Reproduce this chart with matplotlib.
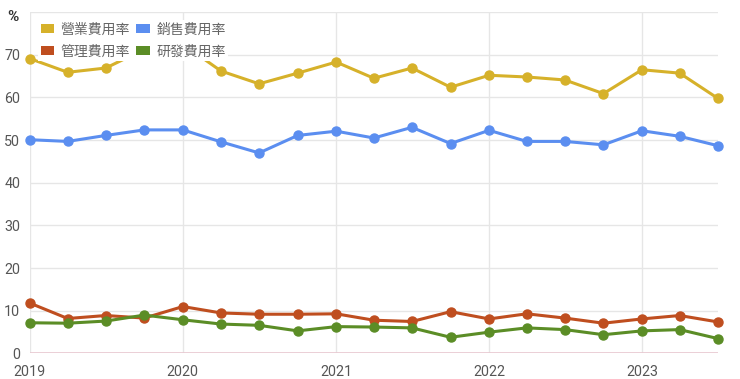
import matplotlib
matplotlib.use('Agg')
import matplotlib.pyplot as plt
import matplotlib.dates as mdates
from matplotlib.patches import Patch
import pandas as pd

plt.rcParams['font.family'] = ['Roboto', 'Noto Sans CJK TC', 'DejaVu Sans']

quarters = ['2019-01-01', '2019-04-01', '2019-07-01', '2019-10-01',
            '2020-01-01', '2020-04-01', '2020-07-01', '2020-10-01',
            '2021-01-01', '2021-04-01', '2021-07-01', '2021-10-01',
            '2022-01-01', '2022-04-01', '2022-07-01', '2022-10-01',
            '2023-01-01', '2023-04-01', '2023-07-01']

operating = [69.1, 65.9, 66.9, 71.3, 72.5, 66.2, 63.2, 65.7, 68.3, 64.5,
             66.9, 62.4, 65.2, 64.8, 64.1, 60.9, 66.5, 65.7, 59.8]
selling = [50.1, 49.7, 51.1, 52.4, 52.4, 49.6, 47.0, 51.1, 52.1, 50.5,
           53.0, 49.2, 52.3, 49.7, 49.7, 48.9, 52.2, 50.9, 48.7]
admin = [11.8, 8.2, 8.9, 8.3, 11.0, 9.5, 9.2, 9.2, 9.3, 7.8,
         7.5, 9.8, 8.1, 9.3, 8.3, 7.1, 8.1, 8.9, 7.4]
rnd = [7.2, 7.1, 7.6, 9.0, 7.9, 6.9, 6.6, 5.3, 6.3, 6.2,
       6.0, 3.8, 5.0, 6.0, 5.6, 4.4, 5.3, 5.6, 3.5]

labels = ['營業費用率', '銷售費用率', '管理費用率', '研發費用率']
colors = ['#d6b12a', '#5b8ef0', '#bf4e1f', '#5b8d26']

x = pd.to_datetime(quarters)

fig = plt.figure(figsize=(7.4, 3.79), dpi=100)
ax = fig.add_axes([0.0405, 0.0673, 0.9295, 0.9007])

for series, label, colour in zip([operating, selling, admin, rnd], labels, colors):
    ax.plot(x, series, color=colour, lw=2.2, marker='o', ms=6.5,
            label=label, solid_joinstyle='round', clip_on=False, zorder=3)

ax.set_xlim(x[0], x[-1])
ax.set_ylim(0, 80)
ax.set_yticks([0, 10, 20, 30, 40, 50, 60, 70, 80])
ax.set_yticklabels(['0', '10', '20', '30', '40', '50', '60', '70', ''])
ax.xaxis.set_major_locator(mdates.YearLocator())
ax.xaxis.set_major_formatter(mdates.DateFormatter('%Y'))

ax.grid(True, color='#e6e6e6', lw=1)
ax.set_axisbelow(True)
for side in ['top', 'right', 'left', 'bottom']:
    ax.spines[side].set_visible(False)
ax.axhline(0, color='#e8c8d0', lw=1.2, zorder=1)
ax.tick_params(length=0, labelsize=10.3, labelcolor='#555555')
ax.tick_params(axis='y', pad=7)
ax.tick_params(axis='x', pad=8)

ax.text(-0.016, 0.985, '%', transform=ax.transAxes, ha='right', va='center',
        fontsize=11, color='#333333', fontweight='bold')

# legend fills column-wise, so reorder to get two rows of two
order = [0, 2, 1, 3]
handles = [Patch(facecolor=colors[i], edgecolor='none') for i in order]
leg = ax.legend(handles, [labels[i] for i in order], loc='upper left', ncol=2,
                bbox_to_anchor=(38 / 740, 1 - 20 / 379),
                bbox_transform=fig.transFigure,
                frameon=True, framealpha=1, edgecolor='none', fancybox=False,
                prop={'family': ['Noto Sans CJK TC', 'DejaVu Sans'], 'size': 10},
                handlelength=1.0, handleheight=0.62, handletextpad=0.45,
                columnspacing=0.45, labelspacing=0.6, borderpad=0.18,
                borderaxespad=0)
for text in leg.get_texts():
    text.set_color('#666666')
leg.set_zorder(5)

fig.savefig('out.png', dpi=100)
